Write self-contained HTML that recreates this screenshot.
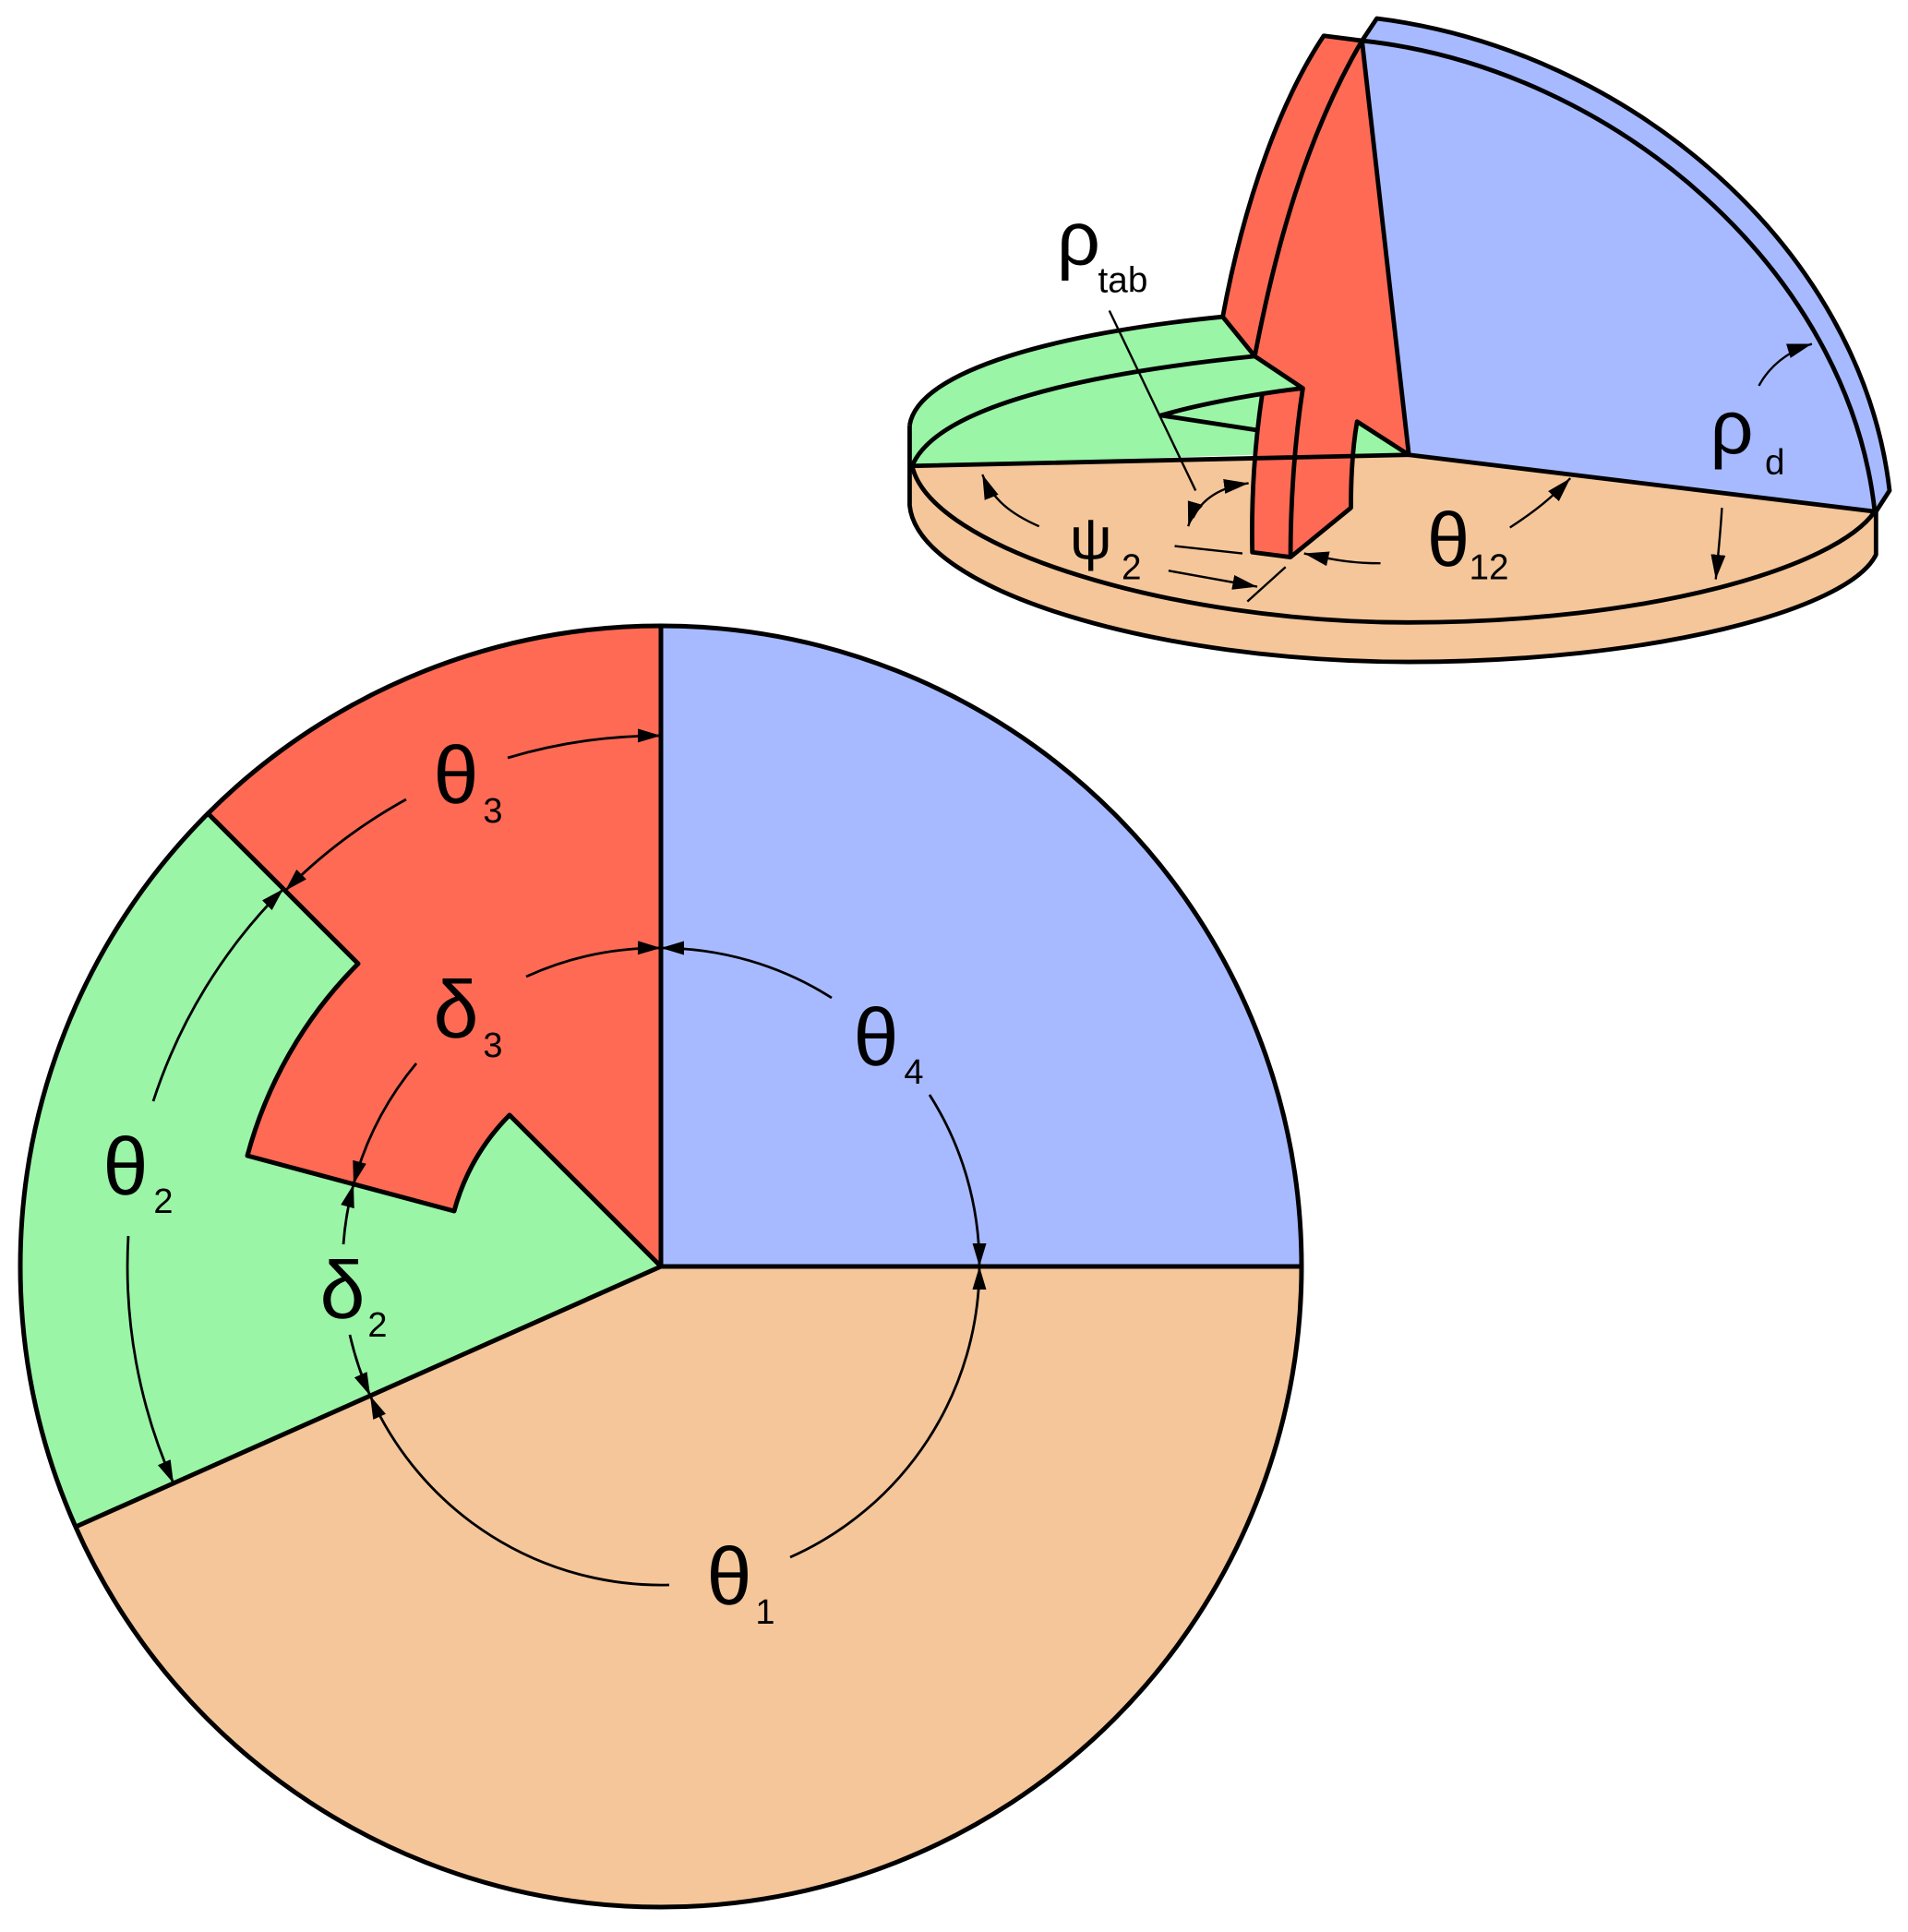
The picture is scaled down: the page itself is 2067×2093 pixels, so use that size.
<!DOCTYPE html>
<html><head><meta charset="utf-8"><style>
html,body{margin:0;padding:0;background:#fff;}
svg{display:block;}
text{font-family:"Liberation Sans",sans-serif;fill:#000;}
</style></head><body>
<svg width="2067" height="2093" viewBox="0 0 2067 2093" xmlns="http://www.w3.org/2000/svg">
<defs>
<marker id="a" viewBox="0 0 20 12" refX="20" refY="6" markerWidth="26" markerHeight="15" markerUnits="userSpaceOnUse" orient="auto"><path d="M0,0 L20,6 L0,12 Z" fill="#000"/></marker>
<marker id="b" viewBox="0 0 20 12" refX="20" refY="6" markerWidth="20" markerHeight="12" markerUnits="userSpaceOnUse" orient="auto"><path d="M0,0 L20,6 L0,12 Z" fill="#000"/></marker>
</defs>

<!-- Bottom circle -->
<g stroke="#000" stroke-width="5" stroke-linejoin="round">
<path d="M716,1372 L1410,1372 A694,694 0 0 1 82,1654 Z" fill="#F5C69A" stroke="none"/>
<path d="M716,1372 L716,678 A694,694 0 0 1 1410,1372 Z" fill="#A7BAFF" stroke="none"/>
<path d="M716,1372 L552,1208 A232,232 0 0 0 492,1312 L268,1252 A464,464 0 0 1 388,1044 L225,881 A694,694 0 0 1 716,678 Z" fill="#FF6A55" stroke="none"/>
<path d="M716,1372 L82,1654 A694,694 0 0 1 225,881 L388,1044 A464,464 0 0 0 268,1252 L492,1312 A232,232 0 0 1 552,1208 Z" fill="#9AF5A6" stroke="none"/>
<circle cx="716" cy="1372" r="694" fill="none"/>
<path d="M716,678 L716,1372 L1410,1372 M716,1372 L82,1654 M225,881 L388,1044 A464,464 0 0 0 268,1252 L492,1312 A232,232 0 0 1 552,1208 L716,1372" fill="none"/>
</g>
<g stroke="#000" stroke-width="2.8" fill="none">
<path d="M550,821 A575,575 0 0 1 716,797" marker-end="url(#a)"/>
<path d="M440,866 A575,575 0 0 0 309,965" marker-end="url(#a)"/>
<path d="M570,1058 A345,345 0 0 1 716,1027" marker-end="url(#a)"/>
<path d="M451,1152 A345,345 0 0 0 383,1283" marker-end="url(#a)"/>
<path d="M901,1081 A345,345 0 0 0 716,1027" marker-end="url(#a)"/>
<path d="M1007,1186 A345,345 0 0 1 1061,1372" marker-end="url(#a)"/>
<path d="M856,1687 A345,345 0 0 0 1061,1372" marker-end="url(#a)"/>
<path d="M725,1717 A345,345 0 0 1 401,1512" marker-end="url(#a)"/>
<path d="M372,1348 A345,345 0 0 1 383,1283" marker-end="url(#a)"/>
<path d="M379,1446 A345,345 0 0 0 401,1512" marker-end="url(#a)"/>
<path d="M166,1193 A578,578 0 0 1 307,963" marker-end="url(#a)"/>
<path d="M139,1339 A578,578 0 0 0 188,1607" marker-end="url(#a)"/>
</g>
<g font-size="88" text-anchor="middle">
<text x="494" y="870">θ</text><text x="534" y="891" font-size="38">3</text>
<text x="494" y="1124">δ</text><text x="534" y="1145" font-size="38">3</text>
<text x="949" y="1154">θ</text><text x="990" y="1174" font-size="38">4</text>
<text x="790" y="1738">θ</text><text x="829" y="1759" font-size="38">1</text>
<text x="136" y="1294">θ</text><text x="177" y="1314" font-size="38">2</text>
<text x="371" y="1428">δ</text><text x="409" y="1448" font-size="38">2</text>
</g>

<!-- Top 3D figure -->
<g transform="scale(1.3353)" stroke-linejoin="round">
<path d="M738,345 L738,410 C745,480 940,537 1143,537 C1340,537 1500,495 1522,450 L1522,415 L1143,369 L740,378 Z" fill="#F5C69A" stroke="none"/>
<path d="M738,345 C745,300 860,270 992,257 L1018,289 L1057,315 L1024,320 L1020,349 L1016,369 L740,378 Z" fill="#9AF5A6" stroke="none"/>
<path d="M1101,342 L1143,369 L1098,369 Z" fill="#9AF5A6" stroke="none"/>
<path d="M1117,15 C1320,40 1510,200 1533,398 L1522,415 L1143,369 L1105,33 Z" fill="#A7BAFF" stroke="none"/>
<path d="M992,257 C1010,160 1040,80 1074,29 L1105,33 L1143,369 L1101,342 C1097,365 1096,390 1096,412 L1047,452 L1016,448 C1015,400 1018,360 1024,320 L1057,315 L1018,289 Z" fill="#FF6A55" stroke="none"/>

<g fill="none" stroke="#000" stroke-width="3.6">
<path d="M738,345 C745,300 860,270 992,257"/>
<path d="M738,345 L738,410 C745,480 940,537 1143,537 C1340,537 1500,495 1522,450 L1522,415"/>
<path d="M740,378 C755,445 950,505 1143,505 C1340,505 1490,460 1521,415"/>
<path d="M740,378 C760,330 880,303 1018,289"/>
<path d="M740,378 L1143,369 L1521,415"/>
<path d="M992,257 C1010,160 1040,80 1074,29 L1105,33 L1117,15 C1320,40 1510,200 1533,398 L1522,415"/>
<path d="M1105,33 C1310,55 1500,220 1521,415"/>
<path d="M1105,33 C1060,110 1035,200 1018,289 L992,257"/>
<path d="M1105,33 L1143,369 L1101,342 C1097,365 1096,390 1096,412 L1047,452 L1016,448 C1015,400 1018,360 1024,320"/>
<path d="M1018,289 L1057,315 C1030,318 980,326 942,337 L1020,349"/>
<path d="M1057,315 C1050,360 1047,410 1047,452"/>
</g>
<g fill="none" stroke="#000" stroke-width="1.8">
<path d="M900,252 L970,398"/>
<path d="M843,427 C820,417 805,405 797,385" marker-end="url(#b)"/>
<path d="M953,443 L1008,449"/>
<path d="M968,420 C975,405 990,395 1013,392" marker-end="url(#b)"/>
<path d="M975,410 C970,415 966,420 964,427" marker-end="url(#b)"/>
<path d="M948,463 L1020,476" marker-end="url(#b)"/>
<path d="M1012,488 L1043,460"/>
<path d="M1120,457 C1100,457 1085,455 1058,449" marker-end="url(#b)"/>
<path d="M1225,428 C1245,415 1260,403 1274,388" marker-end="url(#b)"/>
<path d="M1427,313 C1435,298 1450,285 1470,279" marker-end="url(#b)"/>
<path d="M1397,412 C1396,430 1394,450 1392,470" marker-end="url(#b)"/>
</g>
<g text-anchor="middle">
<text x="875" y="215" font-size="62">ρ</text><text x="911" y="237" font-size="29">tab</text>
<text x="885" y="453" font-size="48">ψ</text><text x="918" y="470" font-size="29">2</text>
<text x="1175" y="459" font-size="62">θ</text><text x="1208" y="470" font-size="29">12</text>
<text x="1405" y="368" font-size="62">ρ</text><text x="1440" y="385" font-size="29">d</text>
</g>
</g>
</svg>
</body></html>
